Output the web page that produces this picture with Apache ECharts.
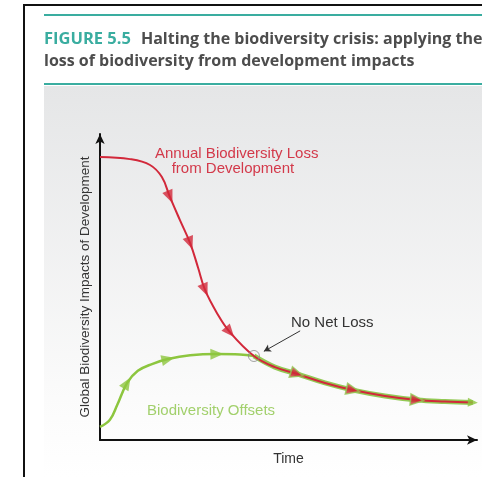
<!DOCTYPE html>
<html>
<head>
<meta charset="utf-8">
<script src="https://cdn.jsdelivr.net/npm/echarts@6/dist/echarts.min.js"></script>
<style>
    html, body { margin: 0; padding: 0; background: #fff; }
    #chart { width: 482px; height: 477px; }
</style>
</head>
<body>
<div id="chart"></div>
<script>
// annual biodiversity loss from development (red curve)
const lossTime = [0, 7.85, 13.1, 16.2, 18.3, 20.9, 23.6, 25.7, 27.5, 30.6, 34.0, 40.3, 45.8, 51.6, 58.9, 66.2, 74.6, 83.0, 90.3, 97.6];
const lossValue = [91.3, 90.6, 88.7, 84.8, 78.4, 71.0, 63.5, 55.5, 48.4, 41.0, 34.8, 27.1, 23.5, 21.3, 18.4, 16.1, 14.2, 12.9, 12.4, 12.1];
// biodiversity offsets (green curve, up to the no net loss point)
const offsetTime = [0, 2.6, 4.5, 7.1, 9.9, 13.6, 17.8, 23.6, 30.6, 36.6, 40.3];
const offsetValue = [4.2, 6.5, 11.3, 18.4, 22.3, 24.5, 26.1, 27.3, 27.7, 27.6, 27.1];
// where the two curves meet, and where the direction arrows sit
const meetIndex = 11;
const lossArrows = [4, 6, 8, 10];
const sharedArrows = [13, 15, 17];
const offsetArrows = [3, 6, 8];

const RED = '#d2283a';
const GREEN = '#8dc63f';
const TEAL = '#3aada0';

const chart = echarts.init(document.getElementById('chart'));

const pairs = (xs, ys) => xs.map((x, i) => [x, ys[i]]);

chart.setOption({
    animation: false,
    backgroundColor: '#fff',
    title: [
        {
            left: 44,
            top: 30,
            padding: 0,
            text: '{a|FIGURE 5.5}  {b|Halting the biodiversity crisis: applying the}',
            textStyle: {
                rich: {
                    a: { fontFamily: 'Open Sans', fontWeight: 'bold', fontSize: 16.5, color: TEAL },
                    b: { fontFamily: 'Open Sans', fontWeight: 'bold', fontSize: 16, color: '#4d4d4d' }
                }
            }
        },
        {
            left: 44,
            top: 53,
            padding: 0,
            text: 'loss of biodiversity from development impacts',
            textStyle: { fontFamily: 'Open Sans', fontWeight: 'bold', fontSize: 16, color: '#4d4d4d' }
        }
    ],
    graphic: [
        {
            type: 'rect', z: -100, silent: true,
            shape: { x: 44, y: 86, width: 438, height: 391 },
            style: {
                fill: new echarts.graphic.LinearGradient(0, 0, 0, 1, [
                    { offset: 0, color: '#e5e6e7' },
                    { offset: 0.8, color: '#fbfbfb' },
                    { offset: 1, color: '#ffffff' }
                ])
            }
        },
        { type: 'line', silent: true, shape: { x1: 24, y1: 5, x2: 482, y2: 5 }, style: { stroke: '#111', lineWidth: 2 } },
        { type: 'line', silent: true, shape: { x1: 24, y1: 4, x2: 24, y2: 477 }, style: { stroke: '#111', lineWidth: 2 } },
        { type: 'line', silent: true, shape: { x1: 44, y1: 15, x2: 482, y2: 15 }, style: { stroke: TEAL, lineWidth: 2 } },
        { type: 'line', silent: true, shape: { x1: 44, y1: 84, x2: 482, y2: 84 }, style: { stroke: TEAL, lineWidth: 2 } },
        {
            type: 'text', silent: true, left: 155, top: 146,
            style: {
                text: 'Annual Biodiversity Loss\n    from Development',
                fill: '#d3394a', font: '15px "Liberation Sans"', lineHeight: 15
            }
        },
        {
            type: 'text', silent: true, left: 291, top: 315,
            style: { text: 'No Net Loss', fill: '#333', font: '15px "Liberation Sans"' }
        },
        {
            type: 'text', silent: true, left: 147, top: 403,
            style: { text: 'Biodiversity Offsets', fill: '#a2d06c', font: '15px "Liberation Sans"' }
        }
    ],
    grid: { left: 100, top: 134, right: 5, bottom: 37 },
    xAxis: {
        type: 'value', min: 0, max: 98.7,
        name: 'Time', nameLocation: 'middle', nameGap: 12,
        nameTextStyle: { fontFamily: 'Liberation Sans', fontSize: 14, color: '#333' },
        axisLine: { lineStyle: { color: '#111', width: 2 }, symbol: ['none', 'arrow'], symbolSize: [7, 10] },
        axisTick: { show: false }, axisLabel: { show: false }, splitLine: { show: false }
    },
    yAxis: {
        type: 'value', min: 0, max: 98.7,
        name: 'Global Biodiversity Impacts of Development', nameLocation: 'middle', nameGap: 8,
        nameTextStyle: { fontFamily: 'Liberation Sans', fontSize: 13.5, color: '#333' },
        axisLine: { lineStyle: { color: '#111', width: 2 }, symbol: ['none', 'arrow'], symbolSize: [7, 10] },
        axisTick: { show: false }, axisLabel: { show: false }, splitLine: { show: false }
    },
    series: [
        {
            name: 'Biodiversity Offsets', type: 'line', z: 2, smooth: 0.4, showSymbol: false,
            lineStyle: { color: GREEN, width: 2.5 },
            data: pairs(offsetTime, offsetValue)
        },
        {
            name: 'Offsets (matched)', type: 'line', z: 3, smooth: 0.4, showSymbol: false,
            lineStyle: { color: '#93c955', width: 5 },
            data: pairs(lossTime, lossValue).slice(meetIndex)
        },
        {
            name: 'Annual Biodiversity Loss', type: 'line', z: 4, smooth: 0.4, showSymbol: false,
            lineStyle: { color: RED, width: 2 },
            data: pairs(lossTime, lossValue)
        }
    ]
});

// arrow headings follow the curve at each arrow point
function heading(xs, ys, i) {
    const j = Math.min(i + 1, xs.length - 1);
    const k = i - 1;
    const a = chart.convertToPixel({ gridIndex: 0 }, [xs[k], ys[k]]);
    const b = chart.convertToPixel({ gridIndex: 0 }, [xs[j], ys[j]]);
    return Math.atan2(a[1] - b[1], b[0] - a[0]) * 180 / Math.PI - 90;
}

const arrows = [];
lossArrows.forEach(i => arrows.push({
    value: [lossTime[i], lossValue[i]], symbolRotate: heading(lossTime, lossValue, i),
    itemStyle: { color: RED }
}));
sharedArrows.forEach(i => arrows.push({
    value: [lossTime[i], lossValue[i]], symbolRotate: heading(lossTime, lossValue, i),
    itemStyle: { color: RED, borderColor: '#93c955', borderWidth: 1.5 }
}));
offsetArrows.forEach(i => arrows.push({
    value: [offsetTime[i], offsetValue[i]], symbolRotate: heading(offsetTime, offsetValue, i),
    itemStyle: { color: GREEN }
}));
const last = lossTime.length - 1;
arrows.push({
    value: [lossTime[last], lossValue[last]], symbolRotate: heading(lossTime, lossValue, last),
    symbolSize: [9, 10], itemStyle: { color: GREEN }
});

chart.setOption({
    series: [
        {}, {}, {},
        {
            name: 'arrows', type: 'scatter', z: 5, symbol: 'triangle', symbolSize: [11, 13],
            data: arrows
        },
        {
            name: 'No Net Loss', type: 'scatter', z: 6, symbol: 'circle', symbolSize: 11,
            itemStyle: { color: 'rgba(0,0,0,0)', borderColor: '#8a8a8a', borderWidth: 1 },
            data: [[lossTime[meetIndex], lossValue[meetIndex]]],
            markLine: {
                silent: true, symbol: ['none', 'arrow'], symbolSize: [6, 7],
                label: { show: false },
                lineStyle: { color: '#333', width: 1, type: 'solid' },
                data: [[{ coord: [52.4, 35.2] }, { coord: [42.9, 28.6] }]]
            }
        }
    ]
});

window.addEventListener('resize', () => chart.resize());
</script>
</body>
</html>
